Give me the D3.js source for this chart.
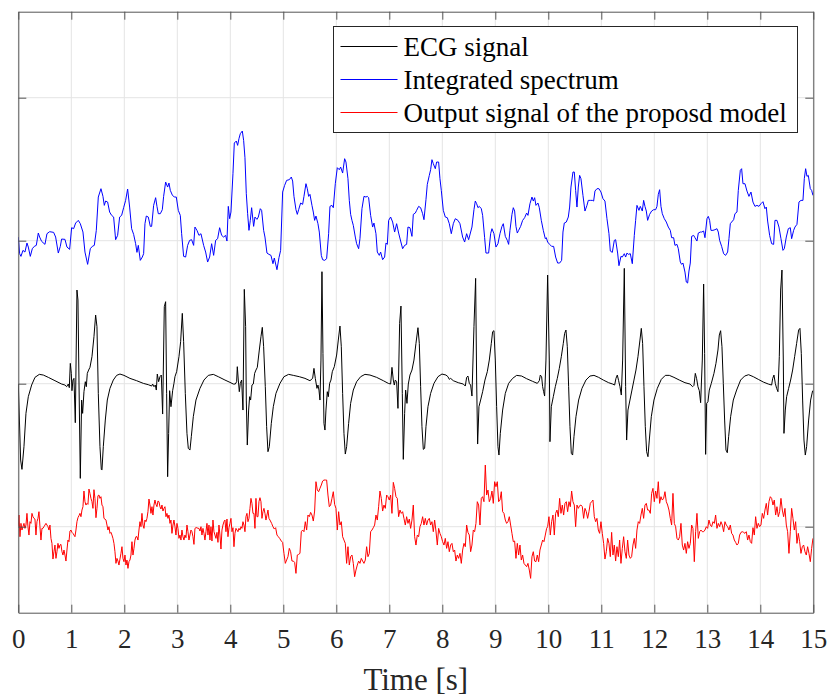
<!DOCTYPE html>
<html>
<head>
<meta charset="utf-8">
<script src="https://cdn.jsdelivr.net/npm/d3@7"></script>
<style>
  html, body { margin: 0; padding: 0; background: #fff; }
  svg { display: block; font-family: "Liberation Serif", "Times New Roman", serif; }
</style>
</head>
<body>
<div id="chart"></div>
<script>
// samples are [index, amplitude], sample rate FS, amplitude in arbitrary units (one grid step = 429)
const FS = 159
const xTicks = d3.range(0, 16)
const yTicks = [0, 429, 858, 1287]
const seriesNames = ['ECG signal', 'Integrated spectrum', 'Output signal of the proposd model']
const seriesColors = ['#000000', '#0000ff', '#ff0000']
const seriesOffsets = [429, 858, 0]

const ecgSamples = [
  [0,-1],[7,-229],[11,-257],[17,-189],[23,-89],[30,-39],[40,-4],[50,19],[63,28],[75,26],[90,19],[110,9],[130,-1],[140,-4],[145,-9],
  [150,-1],[153,-12],[156,61],[159,31],[161,-21],[164,11],[167,16],[171,-117],[176,281],[179,251],[182,11],[186,-284],[190,-49],
  [193,-89],[197,-24],[201,6],[204,-9],[207,31],[211,41],[215,49],[221,81],[227,141],[232,206],[236,171],[240,-29],[245,-189],
  [249,-257],[251,-259],[255,-189],[261,-109],[267,-49],[275,-14],[285,11],[295,25],[305,29],[317,25],[335,16],[355,9],[375,1],
  [390,-3],[400,-7],[403,-1],[407,-9],[411,-4],[414,-19],[417,29],[421,6],[425,21],[429,26],[433,-91],[438,231],[442,246],
  [445,-29],[448,-279],[451,-149],[454,-21],[458,-69],[463,-21],[467,1],[470,21],[475,36],[482,81],[487,126],[492,211],[496,126],
  [501,-29],[506,-149],[510,-194],[515,-199],[519,-159],[525,-99],[533,-49],[545,-14],[557,11],[570,25],[585,28],[600,21],[620,11],
  [635,4],[645,-1],[651,-1],[655,6],[657,51],[660,11],[663,-24],[666,1],[670,11],[674,-79],[678,283],[682,171],[684,-49],
  [687,-184],[691,-79],[694,-39],[697,-49],[701,-4],[705,-1],[709,31],[713,41],[717,49],[723,101],[728,141],[732,169],[736,111],
  [741,-9],[745,-129],[749,-204],[753,-189],[759,-119],[765,-69],[773,-29],[785,1],[797,21],[811,28],[825,25],[843,21],[860,16],
  [875,9],[883,16],[887,46],[891,16],[896,-14],[899,-4],[902,-19],[905,-49],[908,71],[911,336],[914,91],[917,-119],[920,-139],
  [923,-79],[927,-24],[930,-39],[934,1],[938,11],[942,36],[948,51],[955,86],[960,131],[965,173],[969,111],[973,-29],[977,-149],
  [981,-211],[985,-189],[991,-119],[997,-59],[1005,-19],[1015,6],[1027,21],[1040,28],[1055,26],[1075,19],[1095,9],[1110,1],
  [1117,-1],[1121,49],[1125,11],[1128,-4],[1131,11],[1135,6],[1139,-74],[1144,181],[1148,233],[1152,-29],[1155,-227],[1159,-89],
  [1162,-19],[1166,-59],[1170,-1],[1175,26],[1181,41],[1187,71],[1193,121],[1199,168],[1203,121],[1207,-9],[1211,-129],[1215,-197],
  [1219,-194],[1223,-129],[1229,-69],[1237,-29],[1247,1],[1259,21],[1271,29],[1283,26],[1289,21],[1293,13],[1297,16],[1305,9],
  [1320,3],[1335,-1],[1341,-7],[1345,19],[1349,23],[1353,1],[1357,-4],[1361,-37],[1367,171],[1372,316],[1375,11],[1378,-181],
  [1382,-69],[1387,-49],[1393,-24],[1400,11],[1407,36],[1413,71],[1419,121],[1423,156],[1427,159],[1431,71],[1435,-69],[1439,-189],
  [1442,-214],[1446,-149],[1453,-79],[1461,-29],[1471,1],[1483,16],[1495,25],[1510,23],[1525,15],[1543,7],[1557,1],[1563,9],
  [1566,26],[1570,21],[1573,-9],[1576,-24],[1579,-37],[1583,71],[1588,326],[1593,71],[1595,-174],[1599,-69],[1605,-39],[1611,-9],
  [1617,16],[1623,46],[1629,81],[1635,121],[1639,151],[1643,161],[1647,111],[1651,-9],[1655,-129],[1659,-209],[1663,-214],
  [1667,-159],[1673,-99],[1681,-49],[1691,-14],[1703,11],[1715,23],[1727,25],[1741,19],[1755,11],[1771,3],[1783,-1],[1789,-4],
  [1793,16],[1797,26],[1801,9],[1805,-9],[1809,-34],[1813,71],[1818,346],[1822,-9],[1825,-169],[1829,-79],[1835,-49],[1841,-19],
  [1847,11],[1853,41],[1859,81],[1865,131],[1869,166],[1873,121],[1877,-9],[1881,-129],[1885,-204],[1889,-219],[1893,-169],
  [1899,-99],[1907,-49],[1917,-14],[1929,13],[1941,25],[1953,25],[1967,19],[1983,11],[2000,3],[2015,-1],[2023,-9],[2027,-5],
  [2031,31],[2035,15],[2039,-9],[2043,-21],[2047,-57],[2052,71],[2056,299],[2059,91],[2062,-212],[2065,-59],[2069,-54],[2073,-19],
  [2079,1],[2087,31],[2093,61],[2099,101],[2103,146],[2107,159],[2111,111],[2115,1],[2119,-109],[2123,-199],[2127,-207],[2131,-159],
  [2137,-99],[2145,-49],[2155,-19],[2167,11],[2179,23],[2191,27],[2205,21],[2220,13],[2235,5],[2250,-1],[2260,-4],[2263,15],
  [2267,26],[2271,1],[2275,-14],[2279,-24],[2283,81],[2287,281],[2291,341],[2295,71],[2297,-149],[2301,-79],[2305,-39],[2311,-14],
  [2317,11],[2323,41],[2329,81],[2335,121],[2341,161],[2345,166],[2349,91],[2353,-49],[2357,-169],[2361,-214],[2365,-189],
  [2371,-109],[2377,-49],[2383,-21]
]

const spectrumSamples = [
  [0,11],[4,-39],[8,-47],[14,-29],[20,-34],[26,-7],[30,-19],[36,-47],[42,-24],[48,-17],[54,-14],[60,23],[64,11],[70,-2],[80,-11],
  [86,21],[94,27],[106,25],[112,11],[120,-37],[126,-17],[130,5],[140,4],[146,-19],[154,-26],[160,39],[166,36],[172,53],[180,61],
  [186,51],[194,26],[200,-34],[208,-71],[216,-24],[222,-17],[228,-14],[234,31],[240,131],[248,156],[254,133],[258,106],[262,119],
  [268,116],[274,86],[280,76],[286,71],[292,3],[298,16],[304,71],[310,76],[316,99],[322,121],[328,155],[334,101],[340,36],[346,19],
  [352,-9],[356,-35],[360,-14],[366,-59],[372,-49],[376,-39],[380,51],[384,74],[390,71],[396,43],[400,43],[406,106],[412,129],
  [416,103],[420,81],[426,81],[432,93],[436,133],[442,176],[448,161],[452,173],[456,151],[462,137],[468,131],[474,131],[480,91],
  [486,76],[490,21],[496,-47],[502,-49],[508,-14],[514,1],[520,3],[526,-14],[530,41],[536,31],[542,16],[548,21],[556,-14],[562,-34],
  [568,-64],[574,-49],[580,-9],[586,-44],[592,1],[598,6],[604,39],[610,16],[616,11],[622,16],[626,-1],[630,103],[634,66],[638,86],
  [644,201],[648,293],[654,299],[658,286],[662,306],[666,321],[672,329],[676,301],[680,249],[684,141],[688,81],[692,31],[696,61],
  [700,99],[706,43],[710,71],[716,64],[720,71],[726,96],[730,91],[736,31],[740,11],[746,-37],[752,-41],[758,-44],[764,-69],
  [768,-52],[776,-87],[782,-51],[787,-29],[793,146],[799,166],[805,181],[813,183],[819,191],[823,179],[827,133],[833,93],[837,79],
  [841,93],[847,113],[853,109],[857,133],[863,171],[867,156],[871,133],[875,139],[881,106],[885,86],[889,61],[893,74],[899,51],
  [903,26],[909,-44],[913,-57],[919,-59],[925,-54],[931,21],[935,103],[941,106],[945,99],[951,171],[957,219],[963,213],[967,221],
  [973,203],[979,246],[983,236],[989,186],[993,121],[997,79],[1001,61],[1005,46],[1011,11],[1015,-9],[1021,-24],[1025,6],[1031,96],
  [1037,133],[1043,131],[1047,133],[1051,129],[1057,76],[1063,41],[1067,53],[1073,21],[1077,-34],[1083,-44],[1087,-34],[1093,-57],
  [1099,-49],[1103,-7],[1107,-11],[1111,61],[1117,71],[1123,56],[1129,26],[1135,51],[1141,23],[1147,-1],[1153,-24],[1159,-14],
  [1165,-11],[1169,41],[1175,39],[1181,13],[1185,79],[1191,83],[1195,91],[1201,103],[1207,99],[1213,81],[1217,63],[1223,123],
  [1227,169],[1233,196],[1237,213],[1241,243],[1245,231],[1251,216],[1255,236],[1261,236],[1265,186],[1269,151],[1275,91],[1281,71],
  [1287,69],[1293,51],[1299,21],[1305,51],[1311,66],[1319,61],[1325,51],[1333,11],[1339,-4],[1345,21],[1351,3],[1357,26],[1361,41],
  [1367,93],[1371,119],[1375,111],[1379,99],[1383,103],[1389,96],[1393,76],[1399,9],[1403,-37],[1411,-37],[1417,21],[1421,36],
  [1427,21],[1433,-19],[1439,-9],[1445,21],[1451,43],[1455,51],[1461,13],[1467,1],[1471,-11],[1475,31],[1481,79],[1485,99],[1489,89],
  [1493,43],[1497,23],[1501,31],[1507,43],[1513,61],[1519,69],[1525,83],[1529,76],[1535,111],[1541,131],[1545,119],[1549,129],
  [1553,106],[1559,113],[1563,99],[1569,61],[1575,31],[1581,6],[1584,9],[1588,-4],[1594,-11],[1600,-17],[1606,-17],[1612,-49],
  [1618,-67],[1624,-67],[1630,-59],[1634,26],[1638,53],[1644,56],[1650,71],[1654,101],[1658,161],[1664,206],[1668,206],[1672,151],
  [1676,101],[1680,161],[1684,196],[1688,186],[1694,136],[1700,89],[1706,106],[1710,121],[1716,121],[1722,121],[1726,119],
  [1730,149],[1736,156],[1742,156],[1748,146],[1754,126],[1760,119],[1766,66],[1772,21],[1776,-31],[1782,-35],[1788,1],[1792,3],
  [1798,-37],[1802,-75],[1808,-47],[1812,-49],[1818,-39],[1822,-49],[1826,-37],[1830,-41],[1836,-39],[1842,-69],[1848,16],[1852,61],
  [1856,106],[1862,91],[1866,103],[1872,89],[1876,121],[1880,103],[1884,89],[1888,61],[1894,79],[1900,89],[1906,93],[1912,93],
  [1916,103],[1920,139],[1924,153],[1928,103],[1932,81],[1938,66],[1944,56],[1950,41],[1956,31],[1960,9],[1966,9],[1970,-14],
  [1976,-11],[1980,-24],[1986,-64],[1990,-71],[1994,-67],[2000,-94],[2004,-124],[2008,-127],[2012,-91],[2016,-67],[2020,13],
  [2026,16],[2030,9],[2036,-1],[2040,23],[2046,26],[2050,26],[2056,29],[2060,9],[2066,66],[2070,73],[2074,61],[2078,31],[2084,31],
  [2090,33],[2096,36],[2100,26],[2104,1],[2110,-17],[2116,-39],[2122,-44],[2128,-34],[2132,6],[2136,51],[2140,56],[2146,63],
  [2150,81],[2156,86],[2160,151],[2166,211],[2170,216],[2174,171],[2180,171],[2186,149],[2192,133],[2198,146],[2204,116],[2210,103],
  [2216,106],[2222,103],[2228,111],[2234,117],[2240,96],[2244,101],[2248,59],[2254,16],[2260,-9],[2266,-11],[2270,61],[2276,61],
  [2282,41],[2288,6],[2294,-29],[2298,-24],[2304,11],[2310,36],[2316,39],[2320,6],[2326,31],[2330,41],[2336,49],[2342,116],
  [2348,121],[2354,121],[2358,186],[2362,216],[2366,193],[2370,196],[2376,156],[2380,151],[2384,136]
]

const outputSamples = [
  [0,0],[2,35],[5,-30],[8,10],[11,-10],[14,0],[17,10],[20,-5],[23,5],[26,40],[29,0],[32,-25],[35,15],[38,10],[41,40],[44,30],
  [47,25],[50,23],[53,-25],[56,15],[59,25],[62,45],[65,0],[68,-40],[71,-5],[74,-5],[77,0],[80,5],[83,10],[86,5],[89,0],[92,-10],
  [95,5],[98,-35],[101,-50],[104,-97],[107,-75],[110,-55],[113,-95],[116,-75],[119,-50],[122,-65],[125,-55],[128,-53],[131,-75],
  [134,-85],[137,-70],[140,-85],[143,-103],[146,-70],[149,-40],[152,-45],[155,-13],[158,-10],[161,-17],[164,-20],[167,-25],[170,-30],
  [173,-10],[176,15],[179,27],[182,33],[185,40],[188,30],[191,50],[194,60],[197,107],[200,75],[203,65],[206,70],[209,67],[212,113],
  [215,100],[218,85],[221,75],[224,55],[227,111],[230,85],[233,27],[236,55],[239,93],[242,95],[245,85],[248,90],[251,65],[254,60],
  [257,25],[260,23],[263,20],[266,5],[269,-10],[272,0],[275,-20],[278,-17],[281,-25],[284,-35],[287,-50],[290,-75],[293,-110],
  [296,-95],[299,-103],[302,-115],[305,-97],[308,-80],[311,-60],[314,-95],[317,-105],[320,-85],[323,-115],[326,-100],[329,-125],
  [332,-105],[335,-100],[338,-85],[341,-45],[344,-85],[347,-65],[350,-40],[353,-30],[356,-30],[359,-40],[362,-10],[365,15],[368,0],
  [371,40],[374,5],[377,-5],[380,20],[383,15],[386,25],[389,45],[392,83],[395,65],[398,40],[401,60],[404,35],[407,65],[410,80],
  [413,67],[416,60],[419,77],[422,75],[425,60],[428,53],[431,65],[434,47],[437,55],[440,60],[443,30],[446,40],[449,25],[452,35],
  [455,10],[458,20],[461,-20],[464,5],[467,20],[470,0],[473,-25],[476,10],[479,-5],[482,-35],[485,-25],[488,-40],[491,-10],[494,-30],
  [497,-40],[500,-25],[503,-33],[506,5],[509,-15],[512,-40],[515,-25],[518,-10],[521,-15],[524,-30],[527,-53],[530,-5],[533,-3],
  [536,-3],[539,-5],[542,-5],[545,-13],[548,0],[551,-25],[554,-5],[557,-20],[560,-40],[563,-15],[566,10],[569,-25],[572,5],[575,-40],
  [578,0],[581,-43],[584,20],[587,-15],[590,-25],[593,-35],[596,-17],[599,-47],[602,5],[605,-25],[608,-67],[611,-10],[614,5],[617,15],
  [620,20],[623,-15],[626,23],[629,-30],[632,-3],[635,10],[638,25],[641,-15],[644,-3],[647,-60],[650,-20],[653,-5],[656,-10],
  [659,-15],[662,-5],[665,-10],[668,0],[671,-5],[674,15],[677,5],[680,-15],[683,30],[686,40],[689,15],[692,25],[695,55],[698,85],
  [701,70],[704,40],[707,40],[710,-5],[713,85],[716,30],[719,30],[722,75],[725,87],[728,75],[731,25],[734,45],[737,55],[740,40],
  [743,20],[746,35],[749,50],[752,25],[755,20],[760,10],[764,0],[768,-7],[772,-3],[776,-25],[780,-30],[784,-35],[789,-43],[793,-47],
  [797,-80],[801,-110],[805,-100],[809,-90],[813,-65],[817,-75],[821,-103],[825,-103],[829,-107],[833,-140],[837,-85],[841,-83],
  [845,-80],[849,-15],[853,-10],[857,-15],[861,15],[865,-10],[869,35],[873,30],[877,43],[881,35],[885,17],[889,47],[893,135],
  [897,110],[901,105],[905,115],[909,125],[913,137],[917,140],[921,140],[925,140],[929,95],[933,60],[937,65],[941,85],[945,105],
  [949,67],[953,55],[957,-10],[961,45],[965,5],[969,15],[973,-30],[977,-40],[981,-50],[985,-110],[989,-60],[993,-115],[997,-90],
  [1001,-85],[1005,-110],[1009,-150],[1013,-130],[1017,-115],[1021,-103],[1025,-110],[1029,-95],[1033,-103],[1037,-110],[1041,-100],
  [1045,-60],[1049,-90],[1053,-80],[1057,-15],[1061,-10],[1065,-3],[1069,5],[1073,35],[1077,20],[1081,60],[1085,107],[1089,85],
  [1093,47],[1097,65],[1101,55],[1105,95],[1109,90],[1113,80],[1117,95],[1121,40],[1125,133],[1129,115],[1133,90],[1137,85],
  [1141,30],[1145,50],[1149,40],[1153,45],[1157,25],[1161,5],[1165,30],[1169,10],[1173,23],[1177,-5],[1181,20],[1185,65],[1189,-30],
  [1193,-55],[1197,-25],[1201,-30],[1205,0],[1209,10],[1213,30],[1217,5],[1221,25],[1225,5],[1229,20],[1233,25],[1237,5],[1241,15],
  [1245,-15],[1249,20],[1253,-13],[1257,-55],[1261,-5],[1265,-20],[1269,-30],[1273,-45],[1277,-55],[1281,-35],[1285,-65],[1289,-45],
  [1293,-75],[1297,-55],[1301,-50],[1305,-75],[1309,-70],[1313,-103],[1317,-85],[1321,-95],[1325,-80],[1329,-110],[1333,-70],
  [1337,-50],[1341,-60],[1345,5],[1349,-17],[1353,-25],[1357,-75],[1361,-55],[1365,-10],[1369,-15],[1373,10],[1377,75],[1381,65],
  [1385,5],[1389,85],[1393,90],[1397,75],[1401,185],[1405,95],[1409,110],[1413,75],[1417,85],[1421,107],[1425,70],[1429,135],
  [1433,120],[1437,135],[1441,75],[1445,80],[1449,105],[1453,45],[1457,40],[1461,20],[1465,10],[1469,15],[1473,30],[1477,5],
  [1481,-20],[1485,-45],[1489,-43],[1493,-95],[1497,-50],[1501,-85],[1505,-55],[1509,-100],[1513,-85],[1517,-110],[1521,-115],
  [1525,-120],[1529,-110],[1533,-130],[1537,-155],[1541,-90],[1545,-75],[1549,-103],[1553,-105],[1557,-85],[1561,-105],[1565,-70],
  [1569,-55],[1573,-40],[1577,-45],[1581,-25],[1585,-5],[1588,0],[1592,30],[1596,-25],[1600,15],[1604,35],[1608,-25],[1612,40],
  [1616,50],[1620,30],[1624,85],[1628,40],[1632,65],[1636,35],[1640,70],[1644,75],[1648,45],[1652,75],[1656,60],[1660,107],[1664,75],
  [1668,65],[1672,0],[1676,65],[1680,55],[1684,63],[1688,65],[1692,60],[1696,25],[1700,55],[1704,45],[1708,25],[1712,45],[1716,70],
  [1720,75],[1724,80],[1728,30],[1732,15],[1736,25],[1740,-10],[1744,-20],[1748,15],[1752,-20],[1756,-50],[1760,-97],[1764,-75],
  [1768,-35],[1772,-50],[1776,-90],[1780,-17],[1784,-85],[1788,-55],[1792,-103],[1796,-60],[1800,-90],[1804,-40],[1808,-110],
  [1812,-65],[1816,-30],[1820,-75],[1824,-95],[1828,-40],[1832,-85],[1836,-95],[1840,-90],[1844,-55],[1848,-35],[1852,-65],[1856,-10],
  [1860,15],[1864,10],[1868,35],[1872,55],[1876,25],[1880,65],[1884,70],[1888,50],[1892,50],[1896,40],[1900,100],[1904,115],[1908,75],
  [1912,107],[1916,85],[1920,135],[1924,70],[1928,90],[1932,80],[1936,85],[1940,105],[1944,75],[1948,65],[1952,50],[1956,25],[1960,5],
  [1964,100],[1968,10],[1972,0],[1976,-35],[1980,-40],[1984,-30],[1988,10],[1992,-55],[1996,-70],[2000,-50],[2004,-80],[2008,-45],
  [2012,-65],[2016,-50],[2020,5],[2024,-5],[2028,-105],[2032,-15],[2036,40],[2040,-35],[2044,-15],[2048,-10],[2052,-15],[2056,-15],
  [2060,-10],[2064,0],[2068,-5],[2072,20],[2076,5],[2080,0],[2084,15],[2088,10],[2092,35],[2096,-5],[2100,10],[2104,0],[2108,15],
  [2112,5],[2116,-15],[2120,15],[2124,5],[2128,0],[2132,-10],[2136,5],[2140,-20],[2144,-25],[2148,-40],[2152,-47],[2156,-55],
  [2160,-50],[2164,-25],[2168,-17],[2172,-15],[2176,-17],[2180,-20],[2184,-15],[2188,-40],[2192,-25],[2196,-45],[2200,-50],[2204,-3],
  [2208,-25],[2212,30],[2216,-5],[2220,10],[2224,0],[2228,5],[2232,40],[2236,25],[2240,50],[2244,70],[2248,35],[2252,75],[2256,90],
  [2260,85],[2264,65],[2268,80],[2272,35],[2276,60],[2280,30],[2284,45],[2288,85],[2292,50],[2296,30],[2300,55],[2304,5],[2308,-15],
  [2312,-80],[2316,-15],[2320,55],[2324,25],[2328,-10],[2332,15],[2336,-50],[2340,-20],[2344,-45],[2348,-80],[2352,-60],[2356,-55],
  [2360,-75],[2364,-85],[2368,-60],[2372,-80],[2376,-105],[2380,-65],[2384,-35]
]

const seriesSamples = [ecgSamples, spectrumSamples, outputSamples]

const W = 827, H = 697
const plotLeft = 18.3, plotRight = 813.3, plotTop = 11.7, plotBottom = 612.7

const svg = d3.select('#chart').append('svg')
  .attr('width', W)
  .attr('height', H)

const x = d3.scaleLinear().domain([0, 15]).range([plotLeft, plotRight])
const y = d3.scaleLinear().domain([-258, 1545]).range([plotBottom, plotTop])

// grid
const grid = svg.append('g')
grid.selectAll('line.gx').data(xTicks).join('line')
  .attr('class', 'gx')
  .attr('x1', d => x(d)).attr('x2', d => x(d))
  .attr('y1', plotTop).attr('y2', plotBottom)
  .attr('stroke', '#e4e4e4').attr('stroke-width', 1)
grid.selectAll('line.gy').data(yTicks).join('line')
  .attr('class', 'gy')
  .attr('x1', plotLeft).attr('x2', plotRight)
  .attr('y1', d => y(d)).attr('y2', d => y(d))
  .attr('stroke', '#e4e4e4').attr('stroke-width', 1)

svg.append('clipPath').attr('id', 'plot-clip')
  .append('rect')
  .attr('x', plotLeft).attr('y', plotTop)
  .attr('width', plotRight - plotLeft).attr('height', plotBottom - plotTop)

// signals
const lines = svg.append('g').attr('clip-path', 'url(#plot-clip)')
seriesSamples.forEach((samples, i) => {
  const line = d3.line()
    .x(d => x(d[0] / FS))
    .y(d => y(d[1] + seriesOffsets[i]))
  lines.append('path')
    .datum(samples)
    .attr('d', line)
    .attr('fill', 'none')
    .attr('stroke', seriesColors[i])
    .attr('stroke-width', 1)
    .attr('stroke-linejoin', 'round')
})

// axes: box with inward ticks on all four sides
const tickLen = 8
const axisColor = '#555555'
const axisB = d3.axisBottom(x).tickValues(xTicks).tickSizeInner(-tickLen).tickSizeOuter(0).tickPadding(16)
const gx = svg.append('g').attr('transform', `translate(0,${plotBottom})`).call(axisB)
gx.select('.domain').attr('stroke', axisColor)
gx.selectAll('.tick line').attr('stroke', axisColor)
gx.selectAll('.tick text')
  .attr('fill', '#262626')
  .style('font-family', '"Liberation Serif", "Times New Roman", serif')
  .style('font-size', '27px')

const axisT = d3.axisTop(x).tickValues(xTicks).tickSizeInner(-tickLen).tickSizeOuter(0).tickFormat('')
const gxt = svg.append('g').attr('transform', `translate(0,${plotTop})`).call(axisT)
gxt.select('.domain').attr('stroke', axisColor)
gxt.selectAll('.tick line').attr('stroke', axisColor)

const axisL = d3.axisLeft(y).tickValues(yTicks).tickSizeInner(-tickLen).tickSizeOuter(0).tickFormat('')
const gy = svg.append('g').attr('transform', `translate(${plotLeft},0)`).call(axisL)
gy.select('.domain').attr('stroke', axisColor)
gy.selectAll('.tick line').attr('stroke', axisColor)

const axisR = d3.axisRight(y).tickValues(yTicks).tickSizeInner(-tickLen).tickSizeOuter(0).tickFormat('')
const gyr = svg.append('g').attr('transform', `translate(${plotRight},0)`).call(axisR)
gyr.select('.domain').attr('stroke', axisColor)
gyr.selectAll('.tick line').attr('stroke', axisColor)

// x label
svg.append('text')
  .attr('x', (plotLeft + plotRight) / 2)
  .attr('y', 690)
  .attr('text-anchor', 'middle')
  .attr('fill', '#262626')
  .style('font-size', '31px')
  .text('Time [s]')

// legend (half-pixel offsets keep the 1px strokes crisp)
const legend = svg.append('g').attr('transform', 'translate(333.5,26.5)')
legend.append('rect')
  .attr('width', 464).attr('height', 106)
  .attr('fill', '#ffffff')
  .attr('stroke', '#262626').attr('stroke-width', 1)
seriesNames.forEach((name, i) => {
  const ry = 20 + i * 33
  legend.append('line')
    .attr('x1', 7).attr('x2', 64)
    .attr('y1', ry).attr('y2', ry)
    .attr('stroke', seriesColors[i]).attr('stroke-width', 1.2)
  legend.append('text')
    .attr('x', 70)
    .attr('y', ry + 9)
    .attr('fill', '#000')
    .style('font-size', '27px')
    .text(name)
})
</script>
</body>
</html>
